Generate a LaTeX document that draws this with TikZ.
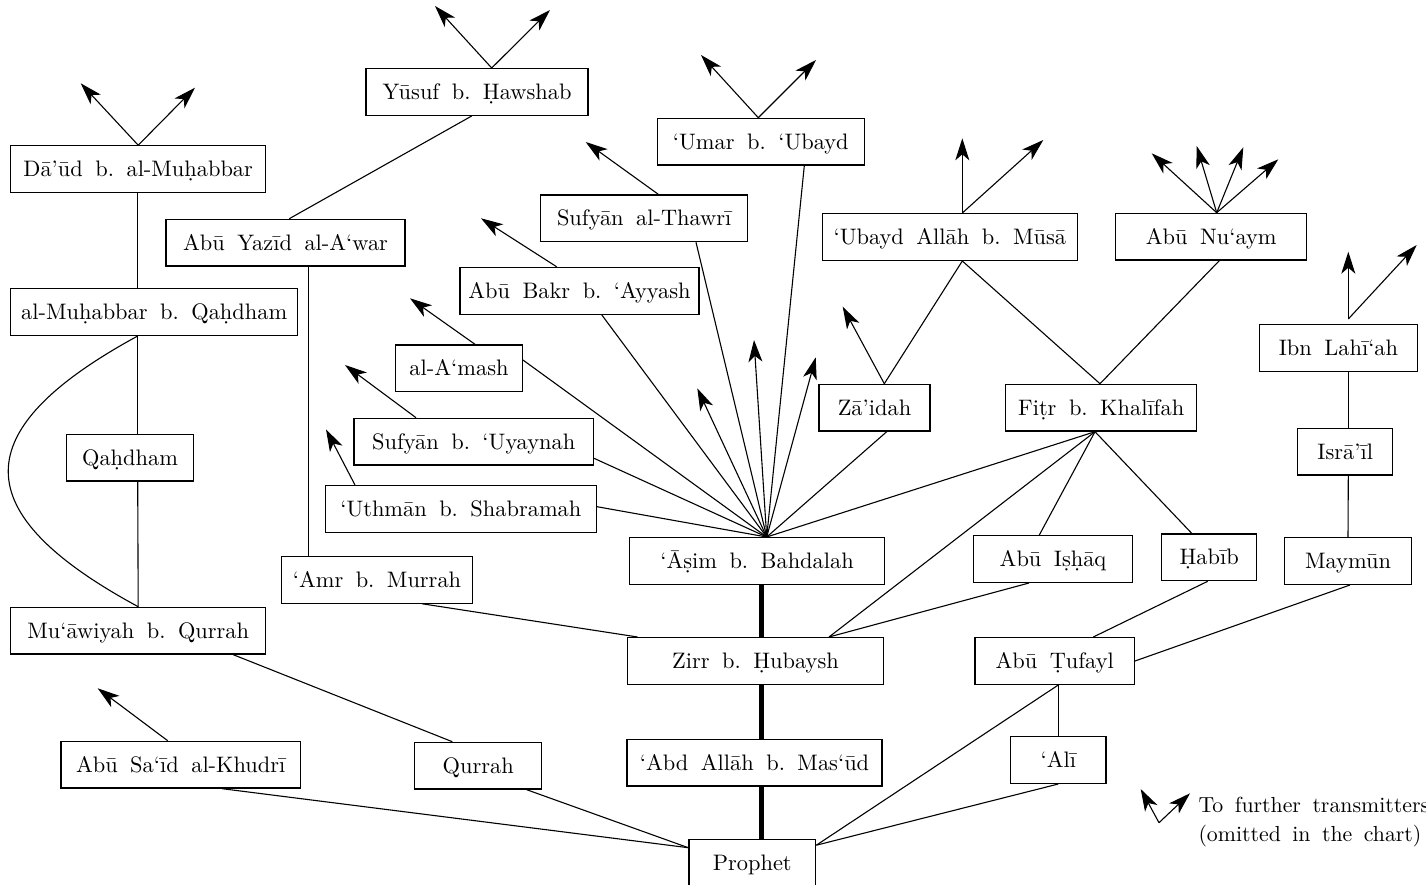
\documentclass[tikz,border=0pt]{standalone}
\usepackage{fontspec}
\usetikzlibrary{arrows.meta}
\newfontfamily\lmten[Ligatures=TeX]{lmroman10-regular.otf}
\newcommand\ay{\textquoteleft}
\newcommand\hz{\textquoteright}
\newcommand\nodefont{\lmten\fontsize{22.4}{29.7}\selectfont\frenchspacing\spaceskip=12.5pt plus 3pt minus 2pt\relax}
\newcommand\legfont{\lmten\fontsize{21.8}{29.7}\selectfont\frenchspacing\spaceskip=11.5pt plus 3pt minus 2pt\relax}
\begin{document}
\begin{tikzpicture}[x=1pt,y=-1pt,
  box/.style={draw, line width=1.3pt, inner sep=0pt, minimum height=46.7pt, text height=17.5pt, text depth=2.5pt, font=\nodefont},
  link/.style={line width=1.1pt},
  fwd/.style={line width=1.1pt, -{Stealth[length=22pt,width=14pt,inset=6pt]}},
  chain/.style={line width=5pt},
  legtext/.style={font=\legfont, anchor=base west, inner sep=0pt}]
\useasboundingbox (0,0) rectangle (1426,885);

% nodes
\node[box, minimum width=222pt] (yusuf) at (477,92) {Yūsuf b. Ḥawshab};
\node[box, minimum width=207pt] (umar) at (760.8,141.7) {\ay Umar b. \ay Ubayd};
\node[box, minimum width=207pt] (thawri) at (644.2,218.3) {Sufyān al-Thawrī};
\node[box, minimum width=239pt] (abubakr) at (579.5,290.8) {Abū Bakr b. \ay Ayyash};
\node[box, minimum width=255pt] (ubayd) at (949.8,237) {\ay Ubayd Allāh b. Mūsā};
\node[box, minimum width=191pt] (nuaym) at (1211.2,236.7) {Abū Nu\ay aym};
\node[box, minimum width=255pt] (daud) at (138.2,169.2) {Dā\hz ūd b. al-Muḥabbar};
\node[box, minimum width=239pt] (abuyazid) at (285.5,242.7) {Abū Yazīd al-A\ay war};
\node[box, minimum width=287pt] (muhabbar) at (154.2,312) {al-Muḥabbar b. Qaḥdham};
\node[box, minimum width=126.6pt] (qahdham) at (130,457.7) {Qaḥdham};
\node[box, minimum width=255pt] (muawiyah) at (138.2,630.7) {Mu\ay āwiyah b. Qurrah};
\node[box, minimum width=239.3pt] (abusaid) at (180.7,764.7) {Abū Sa\ay īd al-Khudrī};
\node[box, minimum width=127pt] (qurrah) at (478.2,765.7) {Qurrah};
\node[box, minimum width=190.6pt] (amr) at (377,579.8) {\ay Amr b. Murrah};
\node[box, minimum width=126.6pt] (amash) at (459,368.3) {al-A\ay mash};
\node[box, minimum width=239.3pt] (uyaynah) at (473.7,441.7) {Sufyān b. \ay Uyaynah};
\node[box, minimum width=271pt] (uthman) at (460.8,509) {\ay Uthmān b. Shabramah};
\node[box, minimum width=254.6pt] (asim) at (757,561) {\ay Āṣim b. Bahdalah};
\node[box, minimum width=111pt] (zaidah) at (874.5,407.7) {Zā\hz idah};
\node[box, minimum width=191pt] (fitr) at (1101.2,407.7) {Fiṭr b. Khalīfah};
\node[box, minimum width=159.4pt] (ishaq) at (1053,559) {Abū Iṣḥāq};
\node[box, minimum width=95pt] (habib) at (1209.2,557.3) {Ḥabīb};
\node[box, minimum width=158.4pt] (ibnlahia) at (1338.5,348) {Ibn Lahī\ay ah};
\node[box, minimum width=95pt] (israil) at (1345.2,451.7) {Isrā\hz īl};
\node[box, minimum width=127.4pt] (maymun) at (1348,561) {Maymūn};
\node[box, minimum width=159.3pt] (tufayl) at (1054.7,661) {Abū Ṭufayl};
\node[box, minimum width=95.3pt] (ali) at (1058.3,760) {\ay Alī};
\node[box, minimum width=255.6pt] (zirr) at (755.5,661) {Zirr b. Ḥubaysh};
\node[box, minimum width=255pt] (abdallah) at (754.5,762.7) {\ay Abd Allāh b. Mas\ay ūd};
\node[box, minimum width=126.7pt] (prophet) at (752.3,862.7) {Prophet};

% free arrow ends
\coordinate (yusufA) at (435,6);
\coordinate (yusufB) at (550,10);
\coordinate (umarA) at (701,55);
\coordinate (umarB) at (816,60);
\coordinate (thawriA) at (585.7,142);
\coordinate (abubakrA) at (481,218.3);
\coordinate (ubaydA) at (962.3,138.3);
\coordinate (ubaydB) at (1043.3,140);
\coordinate (nuaymA) at (1151.7,153.3);
\coordinate (nuaymB) at (1196.7,146);
\coordinate (nuaymC) at (1243.3,147.3);
\coordinate (nuaymD) at (1278.3,159.3);
\coordinate (daudA) at (80.7,83.3);
\coordinate (daudB) at (195,87.7);
\coordinate (amashA) at (410,298.3);
\coordinate (uyaynahA) at (345,365);
\coordinate (uthmanA) at (326,429.3);
\coordinate (asimA) at (697.3,388.3);
\coordinate (asimB) at (754,340);
\coordinate (asimC) at (815.7,357.3);
\coordinate (zaidahA) at (842.7,306.7);
\coordinate (ibnA) at (1348.3,251.7);
\coordinate (ibnB) at (1416.7,245);
\coordinate (abusaidA) at (97.7,688.3);
\coordinate (legO) at (1159,822.7);
\coordinate (legA) at (1140.7,789);
\coordinate (legB) at (1190,793.3);

% hubs
\coordinate (asimhub) at ([xshift=9.7pt]asim.north);
\coordinate (fitrtop) at ([xshift=-1.2pt]fitr.north);
\coordinate (fitrhub) at ([xshift=-6.2pt]fitr.south);
\coordinate (ubaydbot) at ([xshift=12.5pt]ubayd.south);
\coordinate (zaidahtop) at ([xshift=9.8pt]zaidah.north);
\coordinate (zirrR) at ([xshift=73.5pt]zirr.north);
\coordinate (tufaylbot) at ([xshift=3.6pt]tufayl.south);
\coordinate (prophetL) at ([yshift=-9pt]prophet.north west);
\coordinate (prophetR) at ([yshift=-6.5pt]prophet.north east);
\coordinate (ibntop) at ([xshift=9.8pt,yshift=5pt]ibnlahia.north);

% arrows to further transmitters
\draw[fwd] ([xshift=14.7pt]yusuf.north) -- (yusufA);
\draw[fwd] ([xshift=14.7pt]yusuf.north) -- (yusufB);
\draw[fwd] ([xshift=-2.5pt]umar.north) -- (umarA);
\draw[fwd] ([xshift=-2.5pt]umar.north) -- (umarB);
\draw[fwd] ([xshift=14.1pt]thawri.north) -- (thawriA);
\draw[fwd] ([xshift=-22.8pt]abubakr.north) -- (abubakrA);
\draw[fwd] ([xshift=12.5pt]ubayd.north) -- (ubaydA);
\draw[fwd] ([xshift=12.5pt]ubayd.north) -- (ubaydB);
\foreach \t in {nuaymA,nuaymB,nuaymC,nuaymD}
  \draw[fwd] ([xshift=5.5pt]nuaym.north) -- (\t);
\draw[fwd] (daud.north) -- (daudA);
\draw[fwd] (daud.north) -- (daudB);
\draw[fwd] ([xshift=16pt]amash.north) -- (amashA);
\draw[fwd] ([xshift=-57.7pt]uyaynah.north) -- (uyaynahA);
\draw[fwd] ([xshift=-105.8pt]uthman.north) -- (uthmanA);
\draw[fwd] (asimhub) -- (asimA);
\draw[fwd] (asimhub) -- (asimB);
\draw[fwd] (asimhub) -- (asimC);
\draw[fwd] (zaidahtop) -- (zaidahA);
\draw[fwd] (ibntop) -- (ibnA);
\draw[fwd] (ibntop) -- (ibnB);
\draw[fwd] ([xshift=-13pt]abusaid.north) -- (abusaidA);

% links
\draw[link] ([xshift=3.8pt]abuyazid.north) -- ([xshift=-5.3pt]yusuf.south);
\draw[link] ([xshift=23.2pt]abuyazid.south) -- ([xshift=-68.3pt]amr.north);
\draw[link] ([xshift=-0.5pt]daud.south) -- ([xshift=-16.5pt]muhabbar.north);
\draw[link] ([xshift=-16.5pt]muhabbar.south) -- ([xshift=7.7pt]qahdham.north);
\draw[link] ([xshift=7.7pt]qahdham.south) -- (muawiyah.north);
\draw[link] ([xshift=-16.5pt]muhabbar.south) .. controls (-35,430) and (-35,513) .. (muawiyah.north);
\draw[link] ([xshift=95.1pt]muawiyah.south) -- ([xshift=-25.9pt]qurrah.north);
\draw[link] ([xshift=41.6pt]abusaid.south) -- (prophetL);
\draw[link] ([xshift=48.5pt]qurrah.south) -- (prophetL);
\draw[link] ([xshift=45.3pt]amr.south) -- ([xshift=10.6pt]zirr.north west);

\draw[link] ([xshift=43.5pt]umar.south) -- (asimhub);
\draw[link] ([xshift=51.8pt]thawri.south) -- (asimhub);
\draw[link] ([xshift=22.2pt]abubakr.south) -- (asimhub);
\draw[link] ([yshift=8.3pt]amash.east) -- (asimhub);
\draw[link] ([yshift=-16.6pt]uyaynah.east) -- (asimhub);
\draw[link] ([yshift=2.3pt]uthman.east) -- (asimhub);
\draw[link] ([xshift=12.2pt]zaidah.south) -- (asimhub);
\draw[link] (fitrhub) -- (asimhub);

\draw[link] (zaidahtop) -- (ubaydbot);
\draw[link] (fitrtop) -- (ubaydbot);
\draw[link] (fitrtop) -- ([xshift=8.1pt]nuaym.south);
\draw[link] (fitrhub) -- (zirrR);
\draw[link] (fitrhub) -- ([xshift=-13.7pt]ishaq.north);
\draw[link] (fitrhub) -- ([xshift=-17.5pt]habib.north);
\draw[link] ([xshift=-24pt]ishaq.south) -- (zirrR);
\draw[link] ([xshift=-1.5pt]habib.south) -- ([xshift=38.6pt]tufayl.north);

\draw[link] ([xshift=9.8pt]ibnlahia.south) -- ([xshift=3.1pt]israil.north);
\draw[link] ([xshift=3.1pt]israil.south) -- (maymun.north);
\draw[link] ([xshift=2pt]maymun.south) -- (tufayl.east);
\draw[link] (tufaylbot) -- (ali.north);
\draw[link] (tufaylbot) -- (prophetR);
\draw[link] (ali.south) -- (prophetR);

% main chain
\draw[chain] ([xshift=4pt]asim.south) -- ([xshift=5.5pt]zirr.north);
\draw[chain] ([xshift=5.5pt]zirr.south) -- ([xshift=6.5pt]abdallah.north);
\draw[chain] ([xshift=6.5pt]abdallah.south) -- ([xshift=8.7pt]prophet.north);

% legend
\draw[fwd] (legO) -- (legA);
\draw[fwd] (legO) -- (legB);
\node[legtext] (leg1) at (1198.3,812) {To further transmitters};
\node[legtext] (leg2) at (1198.3,841.7) {(omitted in the chart)};
\end{tikzpicture}
\end{document}
